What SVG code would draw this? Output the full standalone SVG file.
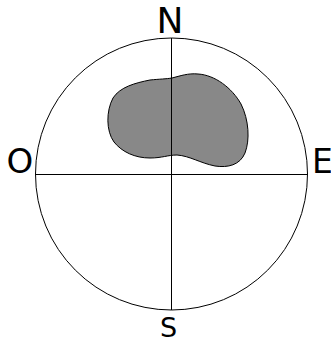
<svg xmlns="http://www.w3.org/2000/svg" width="331" height="343" viewBox="0 0 331 343">
<style>
.ln{stroke:#000;stroke-width:1;fill:none}
.lbl{font-family:"DejaVu Sans",sans-serif;fill:#000;text-anchor:middle}
</style>
<rect width="331" height="343" fill="#fff"/>
<g id="blob">
<path d="M172,78 C180,76 188,73 198,74 C215,75 232,88 241,104 C249,120 250,140 245,153 C240,165 228,168 215,166 C200,163 190,156 177,155 C168,155 162,158 150,158 C135,158 122,152 114,142 C106,131 106,111 113,98 C120,87 135,83 150,80 C160,79 166,79 172,78 Z" fill="#888888" stroke="#000" stroke-width="1"/>
</g>
<g id="connectors">
<circle class="ln" cx="171.5" cy="174" r="136"/>
<line class="ln" x1="171.5" y1="38" x2="171.5" y2="310"/>
<line class="ln" x1="35.5" y1="174.5" x2="307.5" y2="174.5"/>
</g>
<g id="N"><text class="lbl" x="170" y="33" font-size="36">N</text></g>
<g id="O"><text class="lbl" x="20" y="173" font-size="34">O</text></g>
<g id="E"><text class="lbl" x="312" y="173" font-size="33" style="text-anchor:start">E</text></g>
<g id="S"><text class="lbl" x="168.5" y="337" font-size="27">S</text></g>
</svg>
